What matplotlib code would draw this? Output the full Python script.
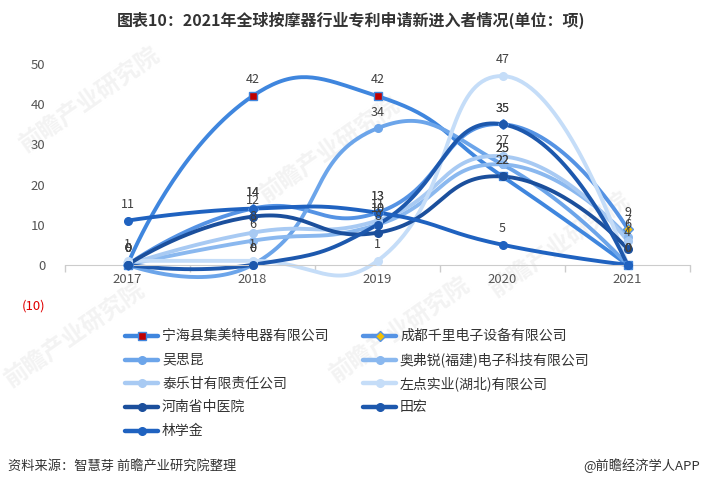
import matplotlib
matplotlib.use("Agg")
import matplotlib.pyplot as plt
from matplotlib.lines import Line2D
import numpy as np

plt.rcParams['font.family'] = ['Noto Sans CJK SC', 'DejaVu Sans']

# data
years = ['2017', '2018', '2019', '2020', '2021']
names = ['宁海县集美特电器有限公司', '成都千里电子设备有限公司', '吴思昆',
         '奥弗锐(福建)电子科技有限公司', '泰乐甘有限责任公司', '左点实业(湖北)有限公司',
         '河南省中医院', '田宏', '林学金']
ninghai = [0, 42, 42, 22, 0]
chengdu = [0, 14, 13, 35, 9]
wusikun = [0, 0, 34, 25, 0]
aofurui = [0, 6, 10, 25, 7]
tailegan = [0, 8, 11, 27, 6]
zuodian = [1, 1, 1, 47, 0]
henan = [0, 12, 8, 22, 4]
tianhong = [0, 0, 10, 35, 0]
linxuejin = [11, 14, 13, 5, 0]
series = [ninghai, chengdu, wusikun, aofurui, tailegan, zuodian, henan, tianhong, linxuejin]

colors = ['#3f86de', '#5593e4', '#6ca5ea', '#8ab8ef', '#a8caf3', '#c5ddf8',
          '#1b4f9c', '#1d58ad', '#1f62c0']
y_ticks = [-10, 0, 10, 20, 30, 40, 50]

W, H = 703, 488
fig = plt.figure(figsize=(W / 100, H / 100), dpi=100)
ax = fig.add_axes([65 / W, 1 - 305 / H, 625 / W, 241 / H])
ax.set_xlim(-0.5, 4.5)
ax.set_ylim(-10, 50)
ax.patch.set_alpha(0)

# pixel size of one unit, used for the echarts-like smoothing
sx = 625 / 5
sy = 241 / 60


def smooth_line(xs, ys, smooth=0.5, n=40):
    p = np.column_stack([np.asarray(xs, float) * sx, np.asarray(ys, float) * sy])
    cps = []
    for i in range(len(p)):
        if i == 0 or i == len(p) - 1:
            cps.append((p[i], p[i]))
            continue
        v = (p[i + 1] - p[i - 1]) * smooth
        d0 = np.linalg.norm(p[i] - p[i - 1])
        d1 = np.linalg.norm(p[i + 1] - p[i])
        s = d0 + d1
        cps.append((p[i] - v * d0 / s, p[i] + v * d1 / s))
    t = np.linspace(0, 1, n)[:, None]
    out = []
    for i in range(len(p) - 1):
        a, b, c, d = p[i], cps[i][1], cps[i + 1][0], p[i + 1]
        seg = (1 - t) ** 3 * a + 3 * (1 - t) ** 2 * t * b + 3 * (1 - t) * t ** 2 * c + t ** 3 * d
        out.append(seg)
    out = np.vstack(out)
    return out[:, 0] / sx, out[:, 1] / sy


# faint watermarks
for (wx, wy) in [(90, 100), (330, 150), (560, 245), (400, 330), (75, 335)]:
    ax.text(wx / W, 1 - wy / H, '前瞻产业研究院', transform=fig.transFigure, rotation=35,
            fontsize=17, color='#f3f3f3', ha='center', va='center', zorder=0.5,
            fontweight='bold')

x = np.arange(len(years))
for i, vals in enumerate(series):
    cx, cy = smooth_line(x, vals)
    ax.plot(cx, cy, color=colors[i], lw=2.8, zorder=2 + i * 0.01,
            solid_capstyle='round', clip_on=False)

for i, vals in enumerate(series):
    if i == 0:
        ax.plot(x, vals, 's', ms=6, mfc='#c00000', mec=colors[i], mew=1,
                zorder=3 + i * 0.01, clip_on=False)
    elif i == 1:
        ax.plot(x, vals, 'D', ms=5.5, mfc='#f5c000', mec=colors[i], mew=1,
                zorder=3 + i * 0.01, clip_on=False)
    else:
        ax.plot(x, vals, 'o', ms=5.5, mfc=colors[i], mec=colors[i],
                zorder=3 + i * 0.01, clip_on=False)
    for xi, v in zip(x, vals):
        ax.annotate(str(v), (xi, v), xytext=(0, 7), textcoords='offset points',
                    ha='center', va='bottom', fontsize=9, color='#404040', zorder=5)

for s in ['top', 'right', 'left']:
    ax.spines[s].set_visible(False)
ax.spines['bottom'].set_position(('data', 0))
ax.spines['bottom'].set_color('#cccccc')

ax.set_xticks(x)
ax.set_xticklabels(years)
ax.set_xticks(np.arange(-0.5, 5, 1), minor=True)
ax.tick_params(axis='x', which='major', length=0, pad=6, labelsize=9.5, labelcolor='#555555')
ax.tick_params(axis='x', which='minor', length=5, color='#cccccc', width=1)

ax.set_yticks(y_ticks)
ax.set_yticklabels(['(10)' if v < 0 else str(v) for v in y_ticks])
ax.tick_params(axis='y', length=0, pad=14, labelsize=9.5, labelcolor='#555555')
ax.get_yticklabels()[0].set_color('#e00000')

fig.text(0.5, 1 - 20 / H, '图表10：2021年全球按摩器行业专利申请新进入者情况(单位：项)',
         ha='center', va='center', fontsize=11.5, fontweight='bold', color='#333333')

# legend, row by row in two columns
for i, name in enumerate(names):
    row, col = divmod(i, 2)
    lx = [125, 363][col]
    ly = 336 + row * 23.7
    fy = 1 - ly / H
    fig.add_artist(Line2D([lx / W, (lx + 33) / W], [fy, fy], transform=fig.transFigure,
                          color=colors[i], lw=3.2, solid_capstyle='round'))
    if i == 0:
        mk = dict(marker='s', ms=6, mfc='#c00000', mec=colors[i])
    elif i == 1:
        mk = dict(marker='D', ms=5, mfc='#f5c000', mec=colors[i])
    else:
        mk = dict(marker='o', ms=5.5, mfc=colors[i], mec=colors[i])
    fig.add_artist(Line2D([(lx + 16.5) / W], [fy], transform=fig.transFigure, ls='none', **mk))
    fig.text((lx + 37) / W, fy, name, ha='left', va='center', fontsize=10, color='#333333')

fig.text(8 / W, 1 - 466 / H, '资料来源：智慧芽 前瞻产业研究院整理', ha='left', va='center',
         fontsize=9.5, color='#333333')
fig.text(700 / W, 1 - 466 / H, '@前瞻经济学人APP', ha='right', va='center',
         fontsize=9.5, color='#333333')

fig.savefig('out.png', dpi=100)
plt.close(fig)
